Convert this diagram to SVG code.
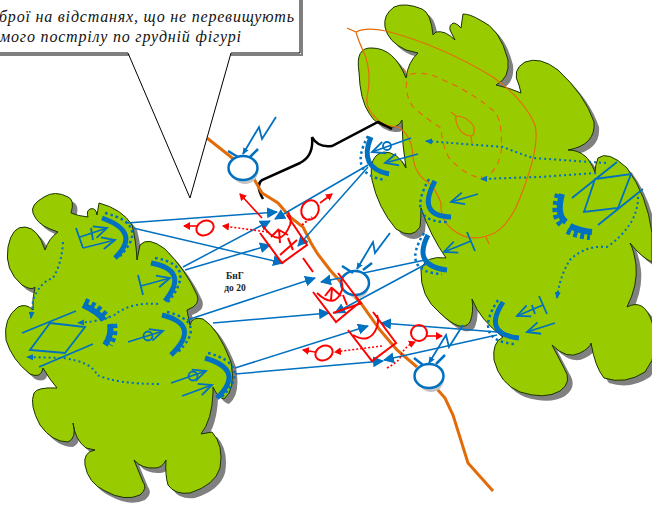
<svg xmlns="http://www.w3.org/2000/svg" xmlns:xlink="http://www.w3.org/1999/xlink" width="652" height="505" viewBox="0 0 652 505">
<style>
.sh{fill:#808080}
.bl{fill:#99cc00;stroke:#1a3300;stroke-width:1}
.road{fill:none;stroke:#e36c0a;stroke-width:3}
.c{fill:none;stroke:#e36c0a;stroke-width:1.2}
.cd{fill:none;stroke:#e36c0a;stroke-width:1.2;stroke-dasharray:6 5}
.u{fill:none;stroke:#0070c0;stroke-width:1.8}
.uo{fill:none;stroke:#0070c0;stroke-width:1.8;marker-end:url(#open)}
.th{fill:none;stroke:#0070c0;stroke-width:5}
.dt{fill:none;stroke:#0070c0;stroke-width:2.5;stroke-dasharray:2.5 3}
.da{fill:none;stroke:#0070c0;stroke-width:2;stroke-dasharray:2 3;marker-end:url(#fb)}
.g1{fill:none;stroke:#0070c0;stroke-width:6}
.g2{fill:none;stroke:#0070c0;stroke-width:6;stroke-dasharray:4 3}
.cn{fill:none;stroke:#0070c0;stroke-width:1.5;marker-end:url(#big)}
.r{fill:none;stroke:#ff0000;stroke-width:2}
.ra{fill:none;stroke:#ff0000;stroke-width:1.6;marker-end:url(#fr)}
.rd{fill:none;stroke:#ff0000;stroke-width:1.6;stroke-dasharray:2 2;marker-end:url(#fr)}
.rg{fill:none;stroke:#0070c0;stroke-width:2.5}
.ring{fill:#fff;stroke:#0070c0;stroke-width:2.5}
.rs{fill:#c4c4c4}
.t{font-family:"Liberation Serif",serif;font-style:italic;font-size:16px;fill:#111}
.l{font-family:"Liberation Serif",serif;font-weight:bold;font-size:9.5px;fill:#222;text-anchor:middle}
</style>
<defs>
<marker id="open" markerUnits="userSpaceOnUse" markerWidth="20" markerHeight="20" refX="17" refY="10" orient="auto"><path d="M4 4L17 10L4 16" fill="none" stroke="#0070c0" stroke-width="1.8"/></marker>
<marker id="fb" markerUnits="userSpaceOnUse" markerWidth="8" markerHeight="8" refX="6" refY="4" orient="auto"><path d="M0 1L7 4L0 7Z" fill="#0070c0"/></marker>
<marker id="big" markerUnits="userSpaceOnUse" markerWidth="12" markerHeight="12" refX="10" refY="5.5" orient="auto"><path d="M0 0L11 5.5L0 11Z" fill="#0070c0"/></marker>
<marker id="fr" markerUnits="userSpaceOnUse" markerWidth="9" markerHeight="9" refX="6" refY="4" orient="auto"><path d="M0 0L7 4L0 8Z" fill="#ff0000"/></marker>
<path id="rb" d="M406 78Q394 48 372 48Q355 47 359 72Q360 100 369 113Q376 126 390 127Q398 128 402 120Q402 145 406 168Q398 152 384 152Q368 155 372 180Q378 208 396 229Q412 240 420 227Q421 218 421 208Q430 235 446 258Q425 255 421 270Q420 297 440 313Q462 334 470 322Q474 312 472 299Q480 320 503 337Q492 342 494 360Q500 384 520 392Q545 400 560 391Q573 382 564 368L552 345Q567 360 580 353Q590 348 591 343Q595 367 604 378Q625 385 645 372Q662 350 652 322Q644 298 627 307Q638 285 636 265Q634 250 630 243Q642 258 652 262L652 233Q647 195 627 168Q608 150 598 158Q595 166 595 172Q590 160 585 156Q578 150 568 150Q596 145 594 122Q585 95 558 70Q540 56 525 62Q511 70 519 85L521 93Q510 88 496 85Q510 78 508 60Q500 28 480 20Q470 14 463 14L461 28Q458 24 454 23Q449 24 450 30L455 40Q445 30 436 32L433 35Q431 13 422 9Q405 2 394 7Q383 15 385 27Q388 42 406 50L418 53Q408 62 406 78Z"/>
<path id="lb" d="M45 250Q38 228 25 227Q12 226 8 247Q4 270 22 285Q32 291 35 287Q32 300 33 310Q26 303 18 307Q3 318 6 340Q12 360 30 374Q41 379 43 368Q50 380 57 388Q37 387 34 393Q29 405 40 425Q52 442 68 442Q77 438 73 423Q75 440 86 448L95 450Q83 452 85 465Q88 483 105 491Q125 502 140 495Q148 488 143 482L134 460Q142 469 155 468Q162 468 166 460Q165 475 168 485Q175 495 190 493Q215 485 220 468Q224 445 212 432L201 434Q212 420 213 393L213 387Q218 398 224 399Q236 390 231 362Q218 328 203 319Q192 316 190 325Q188 316 187 310Q201 305 197 295Q186 270 165 249Q148 236 140 245L137 260Q136 240 132 225Q122 209 99 203L97 215Q96 207 90 209Q86 211 88 217Q78 216 71 213Q75 200 68 197Q55 190 44 197Q30 205 33 213Q37 224 50 229L58 232Q49 238 45 250Z"/>
</defs>
<rect width="652" height="505" fill="#fff"/>
<g id="left-terrain"><use xlink:href="#lb" href="#lb" class="sh" x="5" y="5"/><use xlink:href="#lb" href="#lb" class="bl"/></g>
<g id="right-terrain"><use xlink:href="#rb" href="#rb" class="sh" x="5" y="5"/><use xlink:href="#rb" href="#rb" class="bl"/>
<path class="c" d="M347 28L356 32Q366 27 386 31Q440 45 493 77Q525 100 535 125Q540 145 523 190Q510 228 490 235Q470 242 456 232Q440 222 441 203Q436 190 429 183Q415 175 413 157Q412 135 398 127Q382 126 376 118Q365 108 367 97Q372 75 365 55Q358 40 356 32M486 237L489 244"/>
<path class="cd" d="M403 68L408 75Q425 70 443 80Q472 92 496 113Q503 125 501 153Q497 172 484 178Q468 178 449 158Q442 145 441 128Q428 120 413 107Q403 92 408 75M481 176L486 183"/>
<path class="c" d="M451 112L456 116Q468 116 474 127Q475 136 471 136Q463 136 458 127Q455 120 456 116M471 136L472 143"/>
</g>
<g id="brace"><path d="M263 199Q255 185 262 180L300 163Q314 156 312 137Q318 148 332 146L378 122L392 129" fill="none" stroke="#000" stroke-width="2.5"/></g>
<g id="roads"><path class="road" d="M207 138L250 172L262 193L278 203L290 217L303 227L311 243L317 253L330 270L345 287L360 302L380 330L397 350L417 367M437 389L445 398L453 415L468 463L493 491"/></g>
<g id="connectors">
<path class="cn" d="M127 223L277 212"/>
<path class="cn" d="M133 228L283 263"/>
<path class="cn" d="M183 267L270 221"/>
<path class="cn" d="M185 270L270 245"/>
<path class="cn" d="M187 320L315 278"/>
<path class="cn" d="M213 323L329 313"/>
<path class="cn" d="M235 368L368 326"/>
<path class="cn" d="M235 374L383 361"/>
<path class="cn" d="M368 165L275 219"/>
<path class="cn" d="M368 167L298 246"/>
<path class="cn" d="M425 260L321 282"/>
<path class="cn" d="M428 263L335 313"/>
<path class="cn" d="M497 332L381 323"/>
<path class="cn" d="M497 335L384 360"/>
</g>
<g id="left-units">
<path class="th" d="M102 218Q142 232 115 258"/><path class="dt" d="M105 213Q152 225 118 258"/>
<path class="u" d="M76 228L83 248M91 228L93 240"/><path class="uo" d="M83 248L115 240"/><path class="uo" d="M80 237L107 228"/>
<path class="th" d="M151 263Q190 270 165 301"/><path class="dt" d="M155 258Q198 265 168 302"/>
<path class="u" d="M138 275L143 295"/><path class="uo" d="M141 286L170 278"/>
<path class="th" d="M162 315Q202 325 171 355"/><path class="dt" d="M167 312Q209 322 177 353"/>
<path class="uo" d="M128 342L163 331"/><circle class="u" cx="148" cy="336" r="4.5"/>
<path class="th" d="M205 358Q246 370 217 398"/><path class="dt" d="M208 353Q253 365 222 397"/>
<path class="uo" d="M171 383L206 371"/><circle class="u" cx="193" cy="376" r="4.5"/><path class="uo" d="M182 396L212 385"/>
</g>
<g id="left-artillery">
<path class="g1" d="M83 305Q98 312 104 320M110 324Q112 335 105 345"/><path class="g2" d="M85 301Q100 307 108 318M114 324Q116 335 110 345"/>
<path class="u" d="M50 323L85 327L65 353L30 350ZM22 333L76 311M39 367L93 344"/>
</g>
<g id="left-routes">
<path class="da" d="M63 242Q62 263 53 278Q40 282 33 300L31 318"/>
<path class="da" d="M158 304Q133 302 117 313Q110 320 78 323"/>
<path class="da" d="M159 384Q117 384 97 375Q92 362 63 358L27 357"/>
</g>
<g id="right-units">
<path class="th" d="M371 137Q358 168 389 174"/><path class="dt" d="M368 136Q347 175 386 180"/>
<path class="uo" d="M411 138L372 152"/><circle class="u" cx="387" cy="146" r="4"/><path class="uo" d="M418 154L385 163"/>
<path class="th" d="M435 181Q416 216 451 217"/><path class="dt" d="M429 179Q405 222 447 222"/>
<path class="uo" d="M478 194L451 202"/>
<path class="th" d="M428 235Q412 266 447 270"/><path class="dt" d="M424 233Q400 272 442 274"/>
<path class="u" d="M467 232L475 251"/><path class="uo" d="M471 241L444 252"/>
<path class="th" d="M503 302Q482 334 519 338"/><path class="dt" d="M498 300Q472 340 514 344"/>
<path class="u" d="M539 296L547 314M532 305L535 314"/><path class="uo" d="M543 305L517 316"/><path class="uo" d="M555 323L527 332"/>
</g>
<g id="right-artillery">
<path class="g1" d="M562 194Q556 215 566 222M570 226Q580 231 592 232"/><path class="g2" d="M558 194Q551 218 563 226M567 231Q578 236 590 237"/>
<path class="u" d="M595 179L631 174L618 208L584 212ZM572 198L617 162M598 225L643 189"/>
</g>
<g id="right-routes">
<path class="da" d="M606 163L533 158Q518 153 503 147L426 141"/>
<path class="da" d="M596 173L539 177L481 179"/>
<path class="da" d="M638 197Q638 225 607 247Q585 245 570 260Q560 275 557 298"/>
</g>
<g id="enemy-top">
<circle class="rs" cx="245" cy="171" r="13"/>
<ellipse class="ring" cx="243" cy="168" rx="14.5" ry="12"/>
<path class="rg" d="M228 151L238 157M258 149L250 157"/>
<path class="u" d="M276 117L262 139L259 127L243 154" style="marker-end:url(#fb)"/>
</g>
<g id="enemy-mid">
<circle class="rs" cx="357" cy="286" r="12"/>
<ellipse class="ring" cx="355" cy="283" rx="14" ry="12"/>
<path class="rg" d="M342 266L353 273M372 263L363 270"/>
<path class="u" d="M390 233L375 253L373 242L357 269" style="marker-end:url(#fb)"/>
</g>
<g id="enemy-low">
<circle class="rs" cx="431" cy="379" r="13"/>
<ellipse class="ring" cx="429" cy="376" rx="14.5" ry="12"/>
<path class="rg" d="M414 358L423 365M445 355L436 364"/>
<path class="u" d="M463 325L449 347L446 335L429 363" style="marker-end:url(#fb)"/>
</g>
<g id="red-position-1">
<path class="r" d="M260 233L282 263L307 245L287 215M263 226Q280 250 290 225Q292 218 288 212M279 230L280 243M279 230L288 235M271 237L279 229M288 238L293 250M280 255L297 240"/>
</g>
<g id="red-position-2">
<path class="r" d="M313 292L336 322L360 302L338 273M317 293Q335 310 342 290Q343 285 341 280M332 288L331 300M332 288L341 296M325 296L332 287M343 295L347 305M333 313L362 303"/>
</g>
<g id="red-position-3">
<path class="r" d="M348 330L372 361L396 343L373 312M353 335Q370 345 377 327Q379 320 377 315"/>
</g>
<g id="red-actions">
<path class="r" d="M303 258L313 272"/>
<path class="ra" d="M262 218L240 194"/>
<ellipse class="r" cx="310" cy="210" rx="8.5" ry="10" transform="rotate(25 310 210)"/>
<path class="ra" d="M320 203L332 194"/>
<path class="r" style="stroke-dasharray:2 2" d="M302 225L312 217"/>
<path class="rd" d="M268 232L223 226"/>
<ellipse class="r" cx="205" cy="228" rx="9" ry="7" transform="rotate(-25 205 228)"/>
<path class="ra" d="M197 226L184 226"/>
<circle class="r" cx="419" cy="333" r="8"/>
<path class="ra" d="M427 336L442 336"/>
<path class="rd" d="M387 368Q398 362 400 358Q403 347 415 342"/>
<ellipse class="r" cx="324" cy="353" rx="9" ry="7" transform="rotate(-25 324 353)"/>
<path class="ra" d="M315 352L303 350"/>
<path class="rd" d="M382 346L335 352"/>
</g>
<g id="label"><text class="l" x="235" y="279">БнГ</text><text class="l" x="235" y="291">до 20</text></g>
<g id="callout">
<path d="M-5 55H302V-5" fill="none" stroke="#808080" stroke-width="2"/>
<path d="M-5 -5H300V53H231L190 198L128 53H-5Z" fill="#fff" stroke="#000" stroke-width="1"/>
<text class="t" x="-1" y="22" textLength="295" lengthAdjust="spacing">брої на відстанях, що не перевищують</text>
<text class="t" x="0" y="42" textLength="241" lengthAdjust="spacing">мого пострілу по грудній фігурі</text>
</g>
</svg>
